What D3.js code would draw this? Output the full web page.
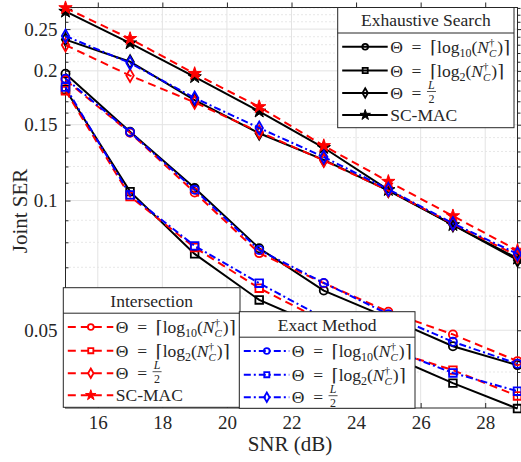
<!DOCTYPE html>
<html>
<head>
<meta charset="utf-8">
<script src="https://cdn.jsdelivr.net/npm/d3@7"></script>
<style>
  body { margin: 0; background: #fff; }
</style>
</head>
<body>
<svg id="chart" width="521" height="462"></svg>
<script>
// SNR points and the SER curves
var snr = [15, 17, 19, 21, 23, 25, 27, 29];

var exhLog10 = [0.197, 0.1445, 0.1069, 0.0775, 0.0618, 0.0534, 0.0459, 0.0415];
var exhLog2  = [0.181, 0.1049, 0.0752, 0.0588, 0.0506, 0.0438, 0.0377, 0.0329];
var exhHalf  = [0.2364, 0.210, 0.171, 0.1433, 0.1243, 0.1055, 0.0878, 0.0728];
var exhScmac = [0.2747, 0.232, 0.1936, 0.1611, 0.1326, 0.1059, 0.0878, 0.0734];

var intLog10 = [0.1904, 0.1437, 0.1044, 0.0755, 0.0643, 0.0552, 0.0489, 0.0424];
var intLog2  = [0.1799, 0.1022, 0.0778, 0.0626, 0.0525, 0.0450, 0.0404, 0.0352];
var intHalf  = [0.2296, 0.195, 0.169, 0.1443, 0.1239, 0.1055, 0.0883, 0.0744];
var intScmac = [0.280, 0.2375, 0.197, 0.165, 0.134, 0.1107, 0.0921, 0.0766];

var exaLog10 = [0.1919, 0.1441, 0.1059, 0.0768, 0.0644, 0.0545, 0.0470, 0.0418];
var exaLog2  = [0.1835, 0.1031, 0.0785, 0.0643, 0.0534, 0.0454, 0.0398, 0.0361];
var exaHalf  = [0.241, 0.2085, 0.173, 0.1474, 0.1262, 0.1062, 0.0885, 0.0752];

var xTicks = [16, 18, 20, 22, 24, 26, 28];
var yTicks = [0.05, 0.1, 0.15, 0.2, 0.25];
var yTickLabels = ["0.05", "0.1", "0.15", "0.2", "0.25"];
var yMinor = [0.04, 0.06, 0.07, 0.08, 0.09, 0.11, 0.12, 0.13, 0.14, 0.16, 0.17, 0.18, 0.19,
              0.21, 0.22, 0.23, 0.24, 0.26, 0.27, 0.28];

var pLeft = 65.5, pRight = 517.5, pTop = 7.5, pBottom = 408;
var axisColor = "#262626";
var serif = "'Liberation Serif', 'DejaVu Serif', serif";

var svg = d3.select("#chart");
var x = d3.scaleLinear().domain([15, 29]).range([pLeft, pRight]);
var y = d3.scaleLog().domain([0.033, 0.2806]).range([pBottom, pTop]);

// grid
var grid = svg.append("g");
grid.selectAll("line.minor").data(yMinor).enter().append("line")
    .attr("x1", pLeft).attr("x2", pRight)
    .attr("y1", function(d){ return y(d); }).attr("y2", function(d){ return y(d); })
    .attr("stroke", "#cfcfcf").attr("stroke-width", 1).attr("stroke-dasharray", "1,3");
grid.selectAll("line.ymaj").data(yTicks).enter().append("line")
    .attr("x1", pLeft).attr("x2", pRight)
    .attr("y1", function(d){ return y(d); }).attr("y2", function(d){ return y(d); })
    .attr("stroke", "#e3e3e3").attr("stroke-width", 1);
grid.selectAll("line.xmaj").data(xTicks).enter().append("line")
    .attr("y1", pTop).attr("y2", pBottom)
    .attr("x1", function(d){ return x(d); }).attr("x2", function(d){ return x(d); })
    .attr("stroke", "#e3e3e3").attr("stroke-width", 1);

// axes (ticks inside, box on)
var tickIn = function(axis, size) { return axis.tickSizeInner(-size).tickSizeOuter(0).tickPadding(8); };
var ax = svg.append("g");
ax.append("g").attr("transform", "translate(0," + pBottom + ")")
  .call(tickIn(d3.axisBottom(x).tickValues(xTicks).tickFormat(d3.format("d")), 5));
ax.append("g").attr("transform", "translate(0," + pTop + ")")
  .call(tickIn(d3.axisTop(x).tickValues(xTicks).tickFormat(""), -5));
ax.append("g").attr("transform", "translate(" + pLeft + ",0)")
  .call(tickIn(d3.axisLeft(y).tickValues(yTicks).tickFormat(function(d, i){ return yTickLabels[i]; }), 5));
ax.append("g").attr("transform", "translate(" + pRight + ",0)")
  .call(tickIn(d3.axisRight(y).tickValues(yTicks).tickFormat(""), -5));
ax.append("g").attr("transform", "translate(" + pLeft + ",0)")
  .call(tickIn(d3.axisLeft(y).tickValues(yMinor).tickFormat(""), 3));
ax.append("g").attr("transform", "translate(" + pRight + ",0)")
  .call(tickIn(d3.axisRight(y).tickValues(yMinor).tickFormat(""), -3));
ax.selectAll(".domain").remove();
ax.selectAll("line").attr("stroke", axisColor);
ax.selectAll("text").attr("fill", axisColor).style("font-size", "19px");
ax.append("rect").attr("x", pLeft).attr("y", pTop).attr("width", pRight - pLeft).attr("height", pBottom - pTop)
  .attr("fill", "none").attr("stroke", axisColor).attr("stroke-width", 1);

// axis labels
svg.append("text").attr("x", 290).attr("y", 444).attr("dy", "0.35em")
   .attr("text-anchor", "middle").style("font-size", "21px").attr("fill", axisColor).text("SNR (dB)");
svg.append("text").attr("transform", "translate(20,211) rotate(-90)").attr("dy", "0.35em")
   .attr("text-anchor", "middle").style("font-size", "21px").attr("fill", axisColor).text("Joint SER");

// series
var styles = {
  exh: { color: "#000", dash: null },
  int: { color: "#ff0000", dash: "8,5" },
  exa: { color: "#0000ff", dash: "7,3,2,3" }
};
var markers = {
  circle: d3.symbolCircle, square: d3.symbolSquare, diamond: d3.symbolDiamond, star: d3.symbolStar
};
var markerSize = { circle: 52, square: 58, diamond: 48, star: 55 };

var series = [
  { group: "exh", marker: "circle", values: exhLog10 },
  { group: "exh", marker: "square", values: exhLog2 },
  { group: "exh", marker: "diamond", values: exhHalf },
  { group: "exh", marker: "star", values: exhScmac },
  { group: "int", marker: "circle", values: intLog10 },
  { group: "int", marker: "square", values: intLog2 },
  { group: "int", marker: "diamond", values: intHalf },
  { group: "int", marker: "star", values: intScmac },
  { group: "exa", marker: "circle", values: exaLog10 },
  { group: "exa", marker: "square", values: exaLog2 },
  { group: "exa", marker: "diamond", values: exaHalf }
];

var line = d3.line().x(function(d){ return x(d[0]); }).y(function(d){ return y(d[1]); });

var drawMarker = function(g, type, color, size, cx, cy) {
  var filled = type === "star";
  g.append("path")
   .attr("d", d3.symbol().type(markers[type]).size(size)())
   .attr("transform", "translate(" + cx + "," + cy + ")")
   .attr("fill", filled ? color : "none")
   .attr("stroke", color).attr("stroke-width", filled ? 1 : 1.8);
};

var plot = svg.append("g");
series.forEach(function(s) {
  var st = styles[s.group];
  var pts = snr.map(function(v, i){ return [v, s.values[i]]; });
  var g = plot.append("g");
  g.append("path").datum(pts).attr("d", line)
   .attr("fill", "none").attr("stroke", st.color).attr("stroke-width", 2)
   .attr("stroke-dasharray", st.dash);
  pts.forEach(function(p) {
    drawMarker(g, s.marker, st.color, markerSize[s.marker], x(p[0]), y(p[1]));
  });
});

// legend labels
var legendFont = "17.5px";
var mathLabel = function(g, tx, ty, kind) {
  var t = g.append("text").attr("x", tx).attr("y", ty).attr("dy", "0.35em")
           .style("font-family", serif).style("font-size", legendFont).attr("fill", axisColor);
  if (kind === "sc") { t.text("SC-MAC"); return; }
  if (kind === "half") {
    t.text("\u0398\u2002=");
    var w = t.node().getComputedTextLength();
    var fx = tx + w + 10;
    g.append("text").attr("x", fx).attr("y", ty - 4).attr("text-anchor", "middle")
     .style("font-size", "12px").style("font-style", "italic").attr("fill", axisColor).text("L");
    g.append("text").attr("x", fx).attr("y", ty + 10).attr("text-anchor", "middle")
     .style("font-size", "12px").attr("fill", axisColor).text("2");
    g.append("line").attr("x1", fx - 4.5).attr("x2", fx + 4.5).attr("y1", ty - 1.5).attr("y2", ty - 1.5)
     .attr("stroke", axisColor).attr("stroke-width", 0.8);
    return;
  }
  t.append("tspan").text("\u0398\u2002=\u2002\u2308log");
  t.append("tspan").style("font-size", "12px").attr("dy", 4).text(kind === "log10" ? "10" : "2");
  t.append("tspan").attr("dy", -4).text("(");
  t.append("tspan").style("font-style", "italic").text("N");
  t.append("tspan").style("font-size", "11px").attr("dy", -7).text("\u2020");
  t.append("tspan").style("font-size", "11px").style("font-style", "italic").attr("dx", -5.5).attr("dy", 11).text("C");
  t.append("tspan").attr("dx", 1).attr("dy", -4).text(")\u2309");
};

var drawLegend = function(bx, by, bw, bh, title, group, rows) {
  var g = svg.append("g");
  g.append("rect").attr("x", bx).attr("y", by).attr("width", bw).attr("height", bh)
   .attr("fill", "#fff").attr("stroke", axisColor).attr("stroke-width", 1);
  g.append("line").attr("x1", bx).attr("x2", bx + bw).attr("y1", by + 25.5).attr("y2", by + 25.5)
   .attr("stroke", axisColor).attr("stroke-width", 1);
  g.append("text").attr("x", bx + bw / 2).attr("y", by + 12.8).attr("dy", "0.35em")
   .attr("text-anchor", "middle").style("font-size", legendFont).attr("fill", axisColor).text(title);
  var st = styles[group];
  var rowY = [39.3, 63, 85.5, 107.5];
  rows.forEach(function(r, i) {
    var ry = by + rowY[i];
    g.append("line").attr("x1", bx + 4.5).attr("x2", bx + 50).attr("y1", ry).attr("y2", ry)
     .attr("stroke", st.color).attr("stroke-width", 2).attr("stroke-dasharray", st.dash);
    drawMarker(g, r.marker, st.color, r.marker === "star" ? 34 : 26, bx + 27.5, ry);
    mathLabel(g, bx + 52.5, ry, r.kind);
  });
};

drawLegend(337.7, 7.5, 176.3, 120.2, "Exhaustive Search", "exh",
  [{marker: "circle", kind: "log10"}, {marker: "square", kind: "log2"},
   {marker: "diamond", kind: "half"}, {marker: "star", kind: "sc"}]);
drawLegend(63.3, 287.7, 176.7, 119.6, "Intersection", "int",
  [{marker: "circle", kind: "log10"}, {marker: "square", kind: "log2"},
   {marker: "diamond", kind: "half"}, {marker: "star", kind: "sc"}]);
drawLegend(239.3, 311.7, 175.7, 96.6, "Exact Method", "exa",
  [{marker: "circle", kind: "log10"}, {marker: "square", kind: "log2"},
   {marker: "diamond", kind: "half"}]);

// serif everywhere, like the LaTeX-rendered original
svg.selectAll("text").style("font-family", serif);
svg.selectAll("g").attr("font-family", null);
</script>
</body>
</html>
